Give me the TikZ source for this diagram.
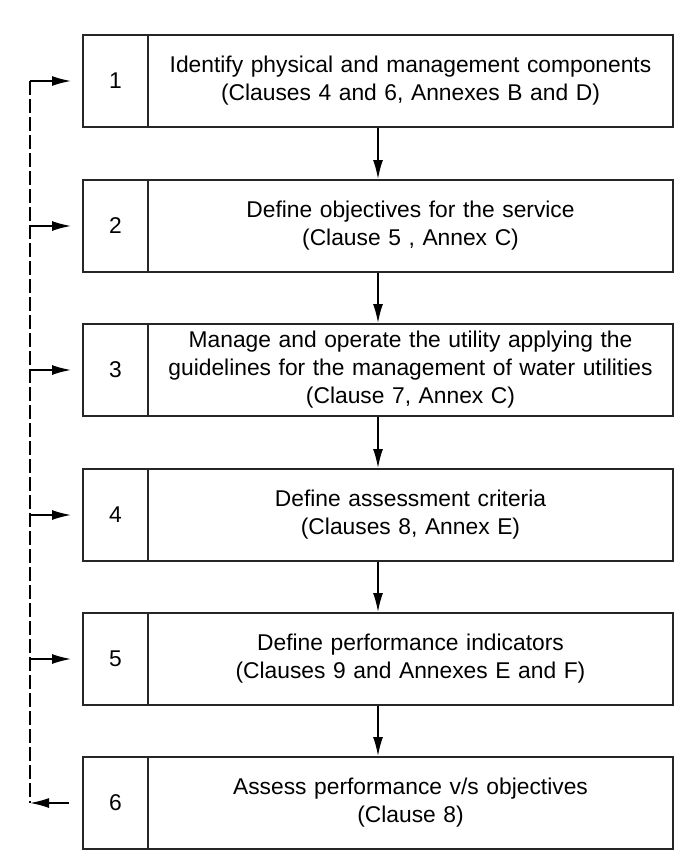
\documentclass[tikz,border=0pt]{standalone}
\usepackage{fontspec}
\setmainfont{Liberation Sans}
\usepackage{xcolor}
\usetikzlibrary{arrows.meta,calc}

\begin{document}
\begin{tikzpicture}[x=1pt,y=-1pt,
    font=\fontsize{22.8}{28}\selectfont,
    numcell/.style={draw=black!85, line width=2pt, minimum width=65pt, minimum height=92pt, inner sep=0pt},
    textcell/.style={draw=black!85, line width=2pt, minimum width=525pt, minimum height=92pt, inner sep=0pt, align=center, text width=515pt},
    flow/.style={-{Latex[length=19pt,width=10pt]}, line width=1.6pt},
    back/.style={line width=1.3pt, dash pattern=on 14pt off 4pt}]
    \useasboundingbox (0,0) rectangle (685,856);

    % Steps
    \node[numcell]  (n1) at (115.5,81) {1};
    \node[textcell] (t1) at (410.5,81) {Identify physical and management components\\(Clauses 4 and 6, Annexes B and D)};

    \node[numcell]  (n2) at (115.5,226) {2};
    \node[textcell] (t2) at (410.5,226) {Define objectives for the service\\(Clause 5 , Annex C)};

    \node[numcell]  (n3) at (115.5,370) {3};
    \node[textcell] (t3) at (410.5,370) {Manage and operate the utility applying the\\guidelines for the management of water utilities\\(Clause 7, Annex C)};

    \node[numcell]  (n4) at (115.5,515) {4};
    \node[textcell] (t4) at (410.5,515) {Define assessment criteria\\(Clauses 8, Annex E)};

    \node[numcell]  (n5) at (115.5,659) {5};
    \node[textcell] (t5) at (410.5,659) {Define performance indicators\\(Clauses 9 and Annexes E and F)};

    \node[numcell]  (n6) at (115.5,803) {6};
    \node[textcell] (t6) at (410.5,803) {Assess performance v/s objectives\\(Clause 8)};

    % Flow between steps
    \draw[flow] ($(n1.south west)!.5!(t1.south east)$) -- ($(n2.north west)!.5!(t2.north east)$);
    \draw[flow] ($(n2.south west)!.5!(t2.south east)$) -- ($(n3.north west)!.5!(t3.north east)$);
    \draw[flow] ($(n3.south west)!.5!(t3.south east)$) -- ($(n4.north west)!.5!(t4.north east)$);
    \draw[flow] ($(n4.south west)!.5!(t4.south east)$) -- ($(n5.north west)!.5!(t5.north east)$);
    \draw[flow] ($(n5.south west)!.5!(t5.south east)$) -- ($(n6.north west)!.5!(t6.north east)$);

    % Feedback loop
    \coordinate (b1) at (30,81);
    \coordinate (b2) at (30,226);
    \coordinate (b3) at (30,370);
    \coordinate (b4) at (30,515);
    \coordinate (b5) at (30,659);
    \coordinate (b6) at (30,803);
    \draw[back] (b1) -- (b6);
    \draw[flow, shorten >=11pt] (b1) -- (n1.west);
    \draw[flow, shorten >=11pt] (b2) -- (n2.west);
    \draw[flow, shorten >=11pt] (b3) -- (n3.west);
    \draw[flow, shorten >=11pt] (b4) -- (n4.west);
    \draw[flow, shorten >=11pt] (b5) -- (n5.west);
    \draw[flow, shorten <=13pt] (n6.west) -- (b6);
\end{tikzpicture}
\end{document}
